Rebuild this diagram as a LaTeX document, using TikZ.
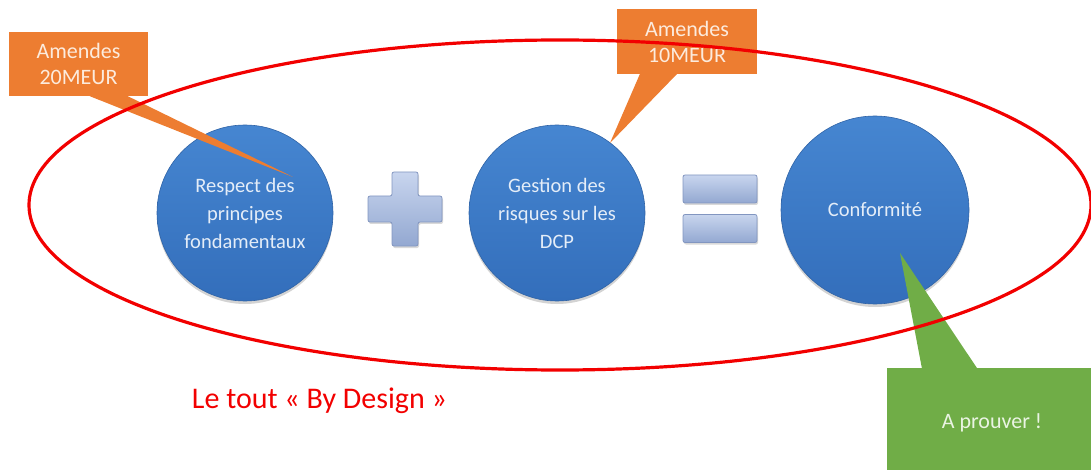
\documentclass[tikz,border=0pt]{standalone}
\usepackage{fontspec}
\usepackage{xcolor}
\setmainfont{Carlito}
\usetikzlibrary{shadows}

\definecolor{bluetop}{HTML}{4686D1}
\definecolor{bluebottom}{HTML}{336EBB}
\definecolor{blueedge}{HTML}{2F63A6}
\definecolor{bulletext}{HTML}{E4EDF8}
\definecolor{signetop}{HTML}{C8D5EE}
\definecolor{signebottom}{HTML}{93A8D1}
\definecolor{signeedge}{HTML}{8296C0}
\definecolor{amendeorange}{HTML}{ED7D31}
\definecolor{amendetext}{HTML}{FCEBDD}
\definecolor{preuvegreen}{HTML}{70AD47}
\definecolor{preuvetext}{HTML}{EAF4E3}
\definecolor{cadrerouge}{HTML}{F20000}

\begin{document}
\begin{tikzpicture}[x=1pt,y=-1pt,
    bulle/.style={circle, inner sep=0pt, align=center, text=bulletext,
        top color=bluetop, bottom color=bluebottom, draw=blueedge, line width=0.6pt,
        drop shadow={opacity=0.35, shadow xshift=0pt, shadow yshift=-3pt},
        font=\fontsize{20.5}{28}\selectfont},
    signe/.style={top color=signetop, bottom color=signebottom, draw=signeedge,
        line width=0.8pt, rounded corners=2pt,
        drop shadow={opacity=0.3, shadow xshift=1pt, shadow yshift=-2pt}},
    amende/.style={rectangle, fill=amendeorange, text=amendetext, align=center,
        inner sep=0pt, font=\fontsize{22}{26}\selectfont},
    preuve/.style={rectangle, fill=preuvegreen, text=preuvetext, align=center,
        inner sep=0pt, font=\fontsize{22}{26}\selectfont},
    cadre/.style={draw=cadrerouge, line width=3.2pt}]
    \clip (0,0) rectangle (1091,470);

    % the three bubbles
    \node[bulle, minimum size=176pt] (respect) at (245,213) {Respect des\\principes\\fondamentaux};
    \node[bulle, minimum size=176pt] (gestion) at (557,213) {Gestion des\\risques sur les\\DCP};
    \node[bulle, minimum size=188pt] (conformite) at (875,210) {Conformité};

    % plus and equals signs
    \coordinate (plus) at (405,209);
    \draw[signe] ([shift={(-13,-37)}]plus) -- ++(26,0) -- ++(0,24) -- ++(24,0) -- ++(0,26)
        -- ++(-24,0) -- ++(0,24) -- ++(-26,0) -- ++(0,-24) -- ++(-24,0) -- ++(0,-26)
        -- ++(24,0) -- cycle;
    \node[signe, rectangle, minimum width=74pt, minimum height=28pt] (egal1) at (720,189) {};
    \node[signe, rectangle, minimum width=74pt, minimum height=28pt] (egal2) at (720,228.5) {};

    % callouts
    \coordinate (pointe1) at (293,177);
    \coordinate (pointe2) at (610,143);
    \coordinate (pointe3) at (900,253);
    \node[amende, minimum width=139pt, minimum height=64pt] (amende1) at (78.5,64) {Amendes\\20MEUR};
    \node[amende, minimum width=140pt, minimum height=65pt] (amende2) at (687,41.5) {Amendes\\10MEUR};
    \node[preuve, minimum width=210pt, minimum height=110pt] (preuve) at (992,423) {A prouver !};
    \fill[amendeorange] ([xshift=81pt]amende1.south west) -- (pointe1) -- ([xshift=119pt]amende1.south west) -- cycle;
    \fill[amendeorange] ([xshift=23pt]amende2.south west) -- (pointe2) -- ([xshift=60pt]amende2.south west) -- cycle;
    \fill[preuvegreen] ([xshift=35pt]preuve.north west) -- (pointe3) -- ([xshift=90pt]preuve.north west) -- cycle;

    % red frame around the formula
    \coordinate (centre) at (560,205);
    \draw[cadre] (centre) ellipse [x radius=531, y radius=165];

    \node[text=cadrerouge, anchor=base, font=\fontsize{30}{36}\selectfont] (bydesign) at (319.5,408) {Le tout « By Design »};
\end{tikzpicture}
\end{document}
